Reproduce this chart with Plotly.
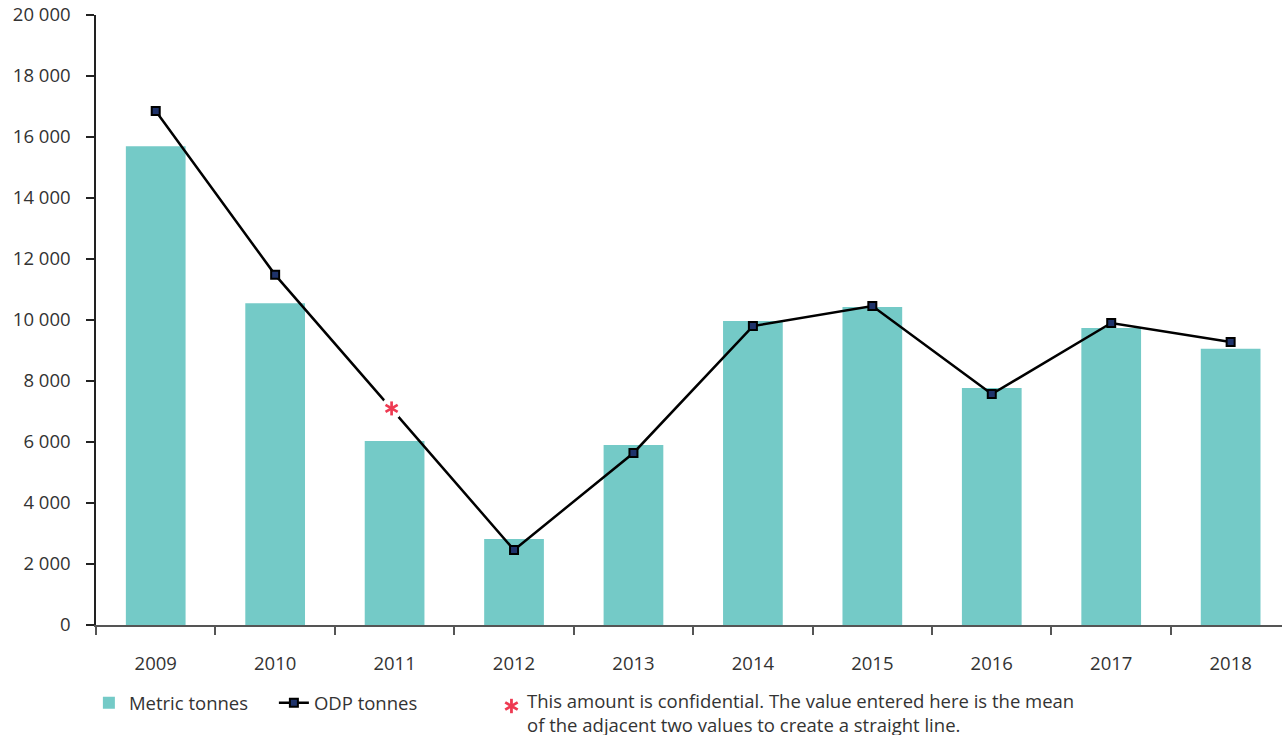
import math
import plotly.graph_objects as go

years = ["2009", "2010", "2011", "2012", "2013", "2014", "2015", "2016", "2017", "2018"]
metric_tonnes = [15700, 10550, 6030, 2820, 5900, 9970, 10430, 7770, 9740, 9060]
odp_tonnes = [16850, 11480, 6970, 2460, 5640, 9800, 10460, 7570, 9900, 9280]
y_ticks = [0, 2000, 4000, 6000, 8000, 10000, 12000, 14000, 16000, 18000, 20000]
y_tick_labels = ["0", "2 000", "4 000", "6 000", "8 000", "10 000", "12 000", "14 000", "16 000", "18 000", "20 000"]
confidential_year = "2011"
footnote = "This amount is confidential. The value entered here is the mean<br>of the adjacent two values to create a straight line."

FONT = "Open Sans"
FS = 18.5
TXT = "#333333"
RED = "#ee3a52"

fig = go.Figure()
fig.add_trace(go.Bar(
    x=years, y=metric_tonnes, name="Metric tonnes",
    marker=dict(color="#74cac7", line=dict(width=0)), width=0.5,
))
fig.add_trace(go.Scatter(
    x=years, y=odp_tonnes, name="ODP tonnes", mode="lines+markers",
    line=dict(color="#000000", width=2.5),
    marker=dict(symbol="square", size=8, color="#1f336b", line=dict(color="#000000", width=2)),
))


def asterisk_shapes(xref, yref, xa, ya, cx, cy, r, w, gap=None):
    shapes = []
    common = dict(xref=xref, yref=yref, xsizemode="pixel", ysizemode="pixel",
                  xanchor=xa, yanchor=ya, layer="above")
    if gap:
        shapes.append(dict(type="circle", x0=cx - gap, x1=cx + gap, y0=cy - gap, y1=cy + gap,
                           fillcolor="white", line=dict(width=0), **common))
    for ang in (90, 30, 150):
        dx = r * math.cos(math.radians(ang))
        dy = r * math.sin(math.radians(ang))
        shapes.append(dict(type="line", x0=cx - dx, x1=cx + dx, y0=cy - dy, y1=cy + dy,
                           line=dict(color=RED, width=w), **common))
    return shapes


ci = years.index(confidential_year)
shapes = []
shapes += asterisk_shapes("x", "y", ci, odp_tonnes[ci], -3, 4, 7, 2.7, gap=11)
shapes += asterisk_shapes("paper", "paper", 0.3503, -0.1328, 0, 0, 7.2, 2.8)

fig.add_annotation(
    xref="paper", yref="paper", x=0.3613, y=-0.1005, xanchor="left", yanchor="top",
    text=footnote, showarrow=False, align="left",
    font=dict(family=FONT, size=FS, color=TXT),
)

fig.update_layout(
    width=1282, height=735,
    margin=dict(l=96, r=0, t=15, b=110, autoexpand=False),
    paper_bgcolor="white", plot_bgcolor="white",
    font=dict(family=FONT, size=FS, color=TXT),
    showlegend=True,
    shapes=shapes,
    legend=dict(
        orientation="h", x=-0.006, y=-0.097, xanchor="left", yanchor="top",
        font=dict(family=FONT, size=FS, color=TXT),
        entrywidth=140, entrywidthmode="pixels", traceorder="normal",
        itemclick=False,
    ),
    bargap=0.5,
)
fig.update_xaxes(
    type="category", range=[-0.5, 9.43], automargin=False,
    showline=True, linecolor="#555555", linewidth=1.5,
    ticks="outside", ticklen=8, tickcolor="#555555", tickwidth=1.5,
    tickson="boundaries", ticklabelstandoff=21,
    showgrid=False, zeroline=False,
    tickfont=dict(family=FONT, size=FS, color=TXT),
)
fig.update_yaxes(
    range=[0, 20000], tickvals=y_ticks, ticktext=y_tick_labels, automargin=False,
    showline=True, linecolor="#222222", linewidth=1.5,
    ticks="outside", ticklen=8, tickcolor="#222222", tickwidth=1.5,
    ticklabelstandoff=12, ticklabeloverflow="allow",
    showgrid=False, zeroline=False,
    tickfont=dict(family=FONT, size=FS, color=TXT),
)

fig.write_html(
    "out.html",
    config={"displayModeBar": False},
    post_script="document.body.style.margin='0';document.body.style.overflow='hidden';",
)
